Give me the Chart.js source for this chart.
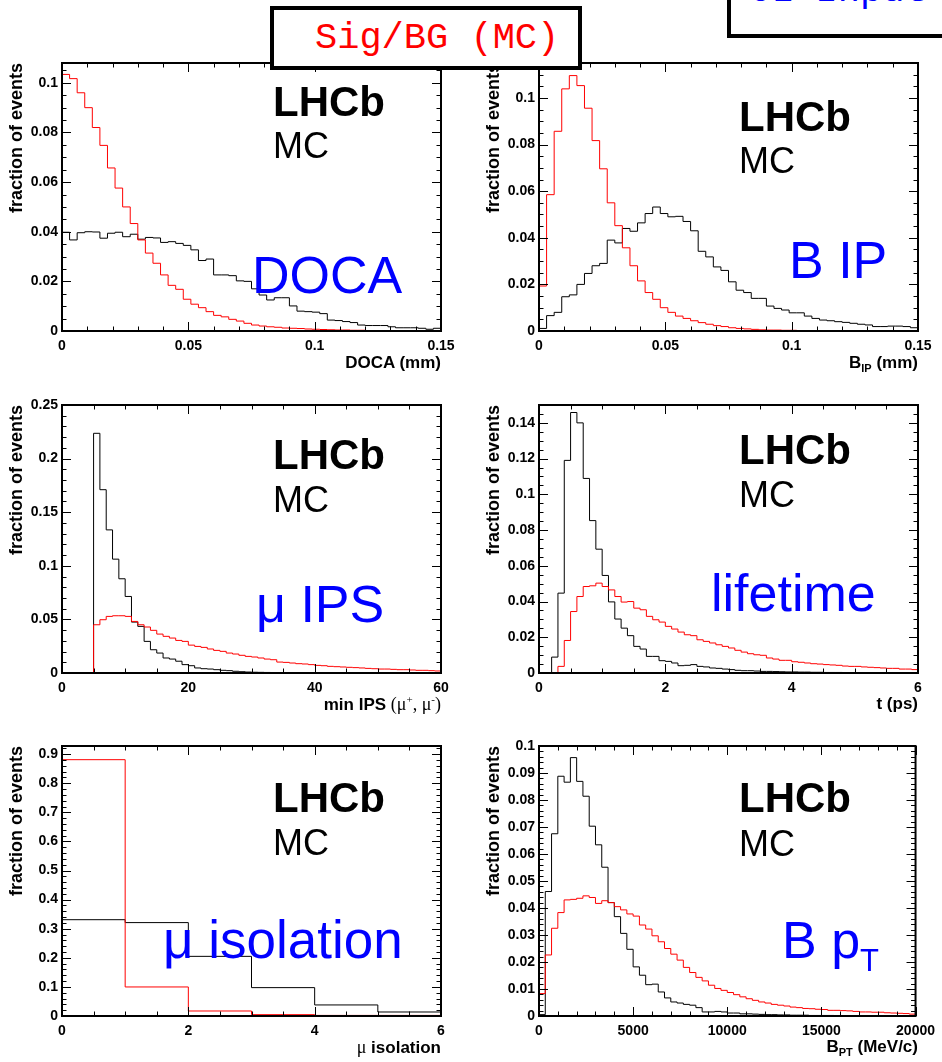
<!DOCTYPE html>
<html>
<head>
<meta charset="utf-8">
<script src="https://cdn.jsdelivr.net/npm/chart.js@4.4.0/dist/chart.umd.min.js"></script>
<style>
  body { margin: 0; background: #fff; }
  #page { position: relative; width: 942px; height: 1062px; overflow: hidden; font-family: "Liberation Sans", Arial, sans-serif; }
  canvas { position: absolute; }
  .t { position: absolute; white-space: nowrap; line-height: 1; color: #000; z-index: 2; }
  .lhcb { font-weight: bold; font-size: 42px; }
  .mc { font-size: 36px; }
  .big { font-size: 52px; color: #0000ff; }
  .xt { font-weight: bold; font-size: 17px; }
  .sym { font-family: "Liberation Serif", serif; font-weight: normal; font-size: 18px; }
  .sub { font-size: 11px; position: relative; top: 4px; }
  .sup { font-size: 11px; position: relative; top: -7px; }
  .box { position: absolute; box-sizing: border-box; border: 4px solid #000; background: #fff; z-index: 3;
         font-family: "Liberation Mono", "Courier New", monospace; font-size: 37px; line-height: 1; overflow: hidden; }
  .box span { position: absolute; white-space: nowrap; }
</style>
</head>
<body>
<div id="page">
  <div class="box" style="left:270px;top:6px;width:312px;height:64px;"><span style="left:41px;top:10px;color:#ff0000;">Sig/BG (MC)</span></div>
  <div class="box" style="left:727px;top:-22px;width:260px;height:60px;"><span style="left:18px;top:-9px;color:#0000ff;">CL Input</span></div>

  <div class="t lhcb" style="left:273px;top:81px;">LHCb</div>
  <div class="t mc" style="left:273px;top:128px;">MC</div>
  <div class="t big" style="left:252px;top:249px;">DOCA</div>
  <div class="t xt" style="right:501px;top:354px;">DOCA (mm)</div>

  <div class="t lhcb" style="left:739px;top:96px;">LHCb</div>
  <div class="t mc" style="left:739px;top:143px;">MC</div>
  <div class="t big" style="left:789px;top:234px;">B IP</div>
  <div class="t xt" style="right:24px;top:354px;">B<span class="sub">IP</span> (mm)</div>

  <div class="t lhcb" style="left:273px;top:434px;">LHCb</div>
  <div class="t mc" style="left:273px;top:482px;">MC</div>
  <div class="t big" style="left:256px;top:578px;">μ IPS</div>
  <div class="t xt" style="right:501px;top:695px;">min IPS <span class="sym">(μ<span class="sup">+</span>, μ<span class="sup">-</span>)</span></div>

  <div class="t lhcb" style="left:739px;top:429px;">LHCb</div>
  <div class="t mc" style="left:739px;top:477px;">MC</div>
  <div class="t big" style="left:711px;top:567px;">lifetime</div>
  <div class="t xt" style="right:24px;top:695px;">t (ps)</div>

  <div class="t lhcb" style="left:273px;top:777px;">LHCb</div>
  <div class="t mc" style="left:273px;top:825px;">MC</div>
  <div class="t big" style="left:163px;top:913px;font-size:53px;">μ isolation</div>
  <div class="t xt" style="right:501px;top:1038px;"><span class="sym">μ</span> isolation</div>

  <div class="t lhcb" style="left:739px;top:777px;">LHCb</div>
  <div class="t mc" style="left:739px;top:826px;">MC</div>
  <div class="t big" style="left:782px;top:914px;">B p<span style="font-size:31px;position:relative;top:13px;">T</span></div>
  <div class="t xt" style="right:24px;top:1038px;">B<span class="sub">PT</span> (MeV/c)</div>
</div>
<script>
// ---- histogram contents (fraction of events per bin), red = signal, black = background ----
const docaSig = [0.1034, 0.1017, 0.0960, 0.0900, 0.0820, 0.0748, 0.0657, 0.0576, 0.0500, 0.0433,
  0.0367, 0.0314, 0.0273, 0.0226, 0.0184, 0.0168, 0.0128, 0.0108, 0.0094, 0.0078,
  0.0063, 0.0057, 0.0047, 0.0040, 0.0031, 0.0024, 0.0020, 0.0017, 0.0015, 0.0012,
  0.0011, 0.0010, 0.0008, 0.0007, 0.0006, 0.0005, 0.0004, 0.0004, 0.0003, 0.0003,
  0.0002, 0.0002, 0.0002, 0.0001, 0.0001, 0.0001, 0.0001, 0.0001, 0.0001, 0.0001];
const docaBkg = [0.0398, 0.0367, 0.0396, 0.0400, 0.0399, 0.0374, 0.0394, 0.0398, 0.0380, 0.0390,
  0.0370, 0.0377, 0.0375, 0.0357, 0.0360, 0.0353, 0.0345, 0.0327, 0.0284, 0.0290,
  0.0226, 0.0226, 0.0223, 0.0202, 0.0200, 0.0170, 0.0145, 0.0125, 0.0134, 0.0134,
  0.0101, 0.0080, 0.0078, 0.0076, 0.0070, 0.0044, 0.0042, 0.0038, 0.0034, 0.0024,
  0.0022, 0.0022, 0.0022, 0.0017, 0.0013, 0.0013, 0.0013, 0.0011, 0.0007, 0.0011];

const ipSig = [0.0193, 0.0585, 0.0857, 0.1039, 0.1096, 0.1053, 0.0956, 0.0817, 0.0696, 0.0550,
  0.0452, 0.0357, 0.0280, 0.0215, 0.0165, 0.0136, 0.0100, 0.0080, 0.0064, 0.0054,
  0.0044, 0.0036, 0.0029, 0.0023, 0.0019, 0.0014, 0.0011, 0.0009, 0.0007, 0.0005,
  0.0004, 0.0004, 0.0003, 0.0003, 0.0002, 0.0002, 0.0002, 0.0001, 0.0001, 0.0001,
  0.0001, 0.0001, 0.0001, 0.0001, 0.0001, 0.0001, 0.0001, 0.0001, 0.0001, 0.0001];
const ipBkg = [0.0011, 0.0066, 0.0080, 0.0147, 0.0155, 0.0200, 0.0247, 0.0280, 0.0290, 0.0390,
  0.0378, 0.0440, 0.0428, 0.0464, 0.0504, 0.0532, 0.0504, 0.0490, 0.0492, 0.0470,
  0.0430, 0.0342, 0.0318, 0.0275, 0.0260, 0.0211, 0.0175, 0.0165, 0.0140, 0.0140,
  0.0107, 0.0097, 0.0090, 0.0078, 0.0078, 0.0064, 0.0054, 0.0047, 0.0044, 0.0040,
  0.0037, 0.0033, 0.0029, 0.0026, 0.0019, 0.0019, 0.0021, 0.0021, 0.0019, 0.0014];

const ipsSig = [0, 0, 0, 0, 0, 0.0450, 0.0497, 0.0528, 0.0534, 0.0534,
  0.0528, 0.0481, 0.0450, 0.0429, 0.0398, 0.0363, 0.0342, 0.0326, 0.0304, 0.0295,
  0.0260, 0.0248, 0.0239, 0.0224, 0.0211, 0.0202, 0.0186, 0.0177, 0.0165, 0.0155,
  0.0149, 0.0140, 0.0130, 0.0124, 0.0102, 0.0099, 0.0093, 0.0087, 0.0084, 0.0078,
  0.0071, 0.0068, 0.0062, 0.0059, 0.0056, 0.0053, 0.0050, 0.0047, 0.0043, 0.0040,
  0.0037, 0.0037, 0.0034, 0.0031, 0.0031, 0.0028, 0.0025, 0.0025, 0.0022, 0.0019];
const ipsBkg = [0, 0, 0, 0, 0, 0.2236, 0.1710, 0.1335, 0.1062, 0.0879,
  0.0714, 0.0475, 0.0435, 0.0295, 0.0217, 0.0186, 0.0140, 0.0130, 0.0110, 0.0078,
  0.0068, 0.0047, 0.0040, 0.0037, 0.0031, 0.0025, 0.0022, 0.0016, 0.0012, 0.0009,
  0.0007, 0.0006, 0.0005, 0.0004, 0.0004, 0.0003, 0.0003, 0.0002, 0.0002, 0.0002,
  0.0001, 0.0001, 0.0001, 0.0001, 0.0001, 0.0001, 0.0001, 0.0001, 0.0001, 0.0001,
  0, 0, 0, 0, 0, 0, 0, 0, 0, 0];

const tauSig = [0, 0, 0, 0.0037, 0.0182, 0.0344, 0.0428, 0.0484, 0.0488, 0.0503,
  0.0484, 0.0465, 0.0428, 0.0397, 0.0400, 0.0363, 0.0354, 0.0317, 0.0298, 0.0285,
  0.0261, 0.0246, 0.0229, 0.0214, 0.0209, 0.0186, 0.0177, 0.0168, 0.0158, 0.0149,
  0.0140, 0.0127, 0.0117, 0.0108, 0.0102, 0.0099, 0.0084, 0.0078, 0.0071, 0.0071,
  0.0063, 0.0060, 0.0056, 0.0052, 0.0050, 0.0047, 0.0045, 0.0043, 0.0039, 0.0037,
  0.0037, 0.0034, 0.0032, 0.0030, 0.0028, 0.0026, 0.0026, 0.0022, 0.0022, 0.0019];
const tauBkg = [0, 0, 0.0089, 0.0447, 0.1190, 0.1458, 0.1400, 0.1089, 0.0853, 0.0693,
  0.0546, 0.0398, 0.0302, 0.0251, 0.0209, 0.0149, 0.0134, 0.0093, 0.0093, 0.0069,
  0.0065, 0.0056, 0.0041, 0.0043, 0.0047, 0.0037, 0.0034, 0.0028, 0.0026, 0.0022,
  0.0019, 0.0015, 0.0013, 0.0013, 0.0011, 0.0009, 0.0009, 0.0008, 0.0007, 0.0006,
  0.0006, 0.0005, 0.0005, 0.0004, 0.0004, 0.0003, 0.0003, 0.0003, 0.0002, 0.0002,
  0.0002, 0.0002, 0.0001, 0.0001, 0.0001, 0.0001, 0.0001, 0.0001, 0.0001, 0.0001];

const isoSig = [0.881, 0.0998, 0.0172, 0.0046, 0.0020, 0.0020];
const isoBkg = [0.331, 0.321, 0.205, 0.0975, 0.038, 0.0138];

const ptSig = [0.0083, 0.0226, 0.0325, 0.0383, 0.0430, 0.0432, 0.0436, 0.0445, 0.0439, 0.0417,
  0.0427, 0.0420, 0.0405, 0.0393, 0.0378, 0.0370, 0.0337, 0.0322, 0.0297, 0.0275,
  0.0250, 0.0229, 0.0207, 0.0180, 0.0161, 0.0143, 0.0130, 0.0114, 0.0102, 0.0095,
  0.0087, 0.0079, 0.0071, 0.0064, 0.0058, 0.0052, 0.0048, 0.0043, 0.0040, 0.0037,
  0.0033, 0.0031, 0.0028, 0.0027, 0.0025, 0.0024, 0.0021, 0.0021, 0.0020, 0.0019,
  0.0017, 0.0015, 0.0015, 0.0014, 0.0014, 0.0012, 0.0011, 0.0010, 0.0009, 0.0007];
const ptBkg = [0.0005, 0.0461, 0.0675, 0.0888, 0.0866, 0.0957, 0.0869, 0.0814, 0.0703, 0.0634,
  0.0551, 0.0420, 0.0368, 0.0306, 0.0247, 0.0182, 0.0151, 0.0116, 0.0118, 0.0089,
  0.0067, 0.0052, 0.0048, 0.0043, 0.0040, 0.0031, 0.0015, 0.0015, 0.0017, 0.0015,
  0.0011, 0.0011, 0.0008, 0.0008, 0.0007, 0.0006, 0.0005, 0.0005, 0.0004, 0.0004,
  0.0003, 0.0003, 0.0003, 0.0002, 0.0002, 0.0002, 0.0002, 0.0001, 0.0001, 0.0001,
  0.0001, 0.0001, 0.0001, 0.0001, 0.0001, 0, 0, 0, 0, 0];

// axis ranges and tick steps, one entry per panel
const xMax = [0.15, 0.15, 60, 6, 6, 20000];
const yMax = [0.108, 0.115, 0.25, 0.15, 0.928, 0.1];
const xMajor = [0.05, 0.05, 20, 2, 2, 5000];
const xMinor = [0.01, 0.01, 5, 0.5, 0.5, 1000];
const yMajor = [0.02, 0.02, 0.05, 0.02, 0.1, 0.01];
const yMinor = [0.005, 0.005, 0.01, 0.005, 0.02, 0.002];

const sigData = [docaSig, ipSig, ipsSig, tauSig, isoSig, ptSig];
const bkgData = [docaBkg, ipBkg, ipsBkg, tauBkg, isoBkg, ptBkg];

//! ------------------------ layout ------------------------
const plotBoxes = [
  [62, 63, 441, 331], [539, 63, 918, 331],
  [62, 405, 441, 673], [539, 405, 918, 673],
  [62, 746, 441, 1016], [539, 746, 918, 1016],
];
const X_AXIS_H = 45;
const TOP_PAD = 23;

Chart.defaults.font.family = '"Liberation Sans", Arial, sans-serif';
Chart.defaults.color = '#000';

// bin contents -> step points at the bin edges (last edge repeats the last bin)
const histPoints = (vals, xmax) => {
  const w = xmax / vals.length;
  const pts = vals.map((v, i) => ({ x: i * w, y: v }));
  pts.push({ x: xmax, y: vals[vals.length - 1] });
  return pts;
};

const fmt = (v) => String(+Number(v).toPrecision(8));

// ROOT style frame with inward ticks on all four sides
const rootAxes = {
  id: 'rootAxes',
  afterDraw(chart, args, o) {
    const { ctx, chartArea: a } = chart;
    const xs = chart.scales.x, ys = chart.scales.y;
    ctx.save();
    ctx.strokeStyle = '#000';
    ctx.lineWidth = 1;
    ctx.beginPath();
    const nx = Math.round(xs.max / o.xMinor);
    for (let i = 0; i <= nx; i++) {
      const v = i * o.xMinor;
      const major = Math.abs(v / o.xMajor - Math.round(v / o.xMajor)) < 1e-6;
      const len = major ? 9 : 4.5;
      const px = Math.round(xs.getPixelForValue(v)) + 0.5;
      ctx.moveTo(px, a.bottom); ctx.lineTo(px, a.bottom - len);
      ctx.moveTo(px, a.top); ctx.lineTo(px, a.top + len);
    }
    const ny = Math.floor(ys.max / o.yMinor + 1e-6);
    for (let i = 0; i <= ny; i++) {
      const v = i * o.yMinor;
      const major = Math.abs(v / o.yMajor - Math.round(v / o.yMajor)) < 1e-6;
      const len = major ? 9 : 4.5;
      const py = Math.round(ys.getPixelForValue(v)) + 0.5;
      ctx.moveTo(a.left, py); ctx.lineTo(a.left + len, py);
      ctx.moveTo(a.right, py); ctx.lineTo(a.right - len, py);
    }
    ctx.stroke();
    ctx.lineWidth = 2;
    ctx.strokeRect(a.left, a.top, a.right - a.left, a.bottom - a.top);
    ctx.restore();
  },
};

const makePanel = (i) => {
  const [pl, pt, pr, pb] = plotBoxes[i];
  const col = i % 2;
  const cLeft = col === 0 ? 0 : 470;
  const cWidth = col === 0 ? 470 : 472;
  const cTop = pt - TOP_PAD;
  const cHeight = pb + X_AXIS_H - cTop;
  const yAxisW = pl - cLeft;

  const canvas = document.createElement('canvas');
  canvas.width = cWidth;
  canvas.height = cHeight;
  canvas.style.left = cLeft + 'px';
  canvas.style.top = cTop + 'px';
  canvas.style.width = cWidth + 'px';
  canvas.style.height = cHeight + 'px';
  document.getElementById('page').appendChild(canvas);

  const line = (vals, color) => ({
    data: histPoints(vals, xMax[i]),
    borderColor: color,
    borderWidth: 1,
    stepped: 'before',
    pointRadius: 0,
    fill: false,
  });

  new Chart(canvas, {
    type: 'line',
    data: { datasets: [line(sigData[i], '#ff0000'), line(bkgData[i], '#000000')] },
    options: {
      responsive: false,
      animation: false,
      devicePixelRatio: 1,
      layout: { padding: { left: 0, top: TOP_PAD, right: cLeft + cWidth - pr, bottom: 0 } },
      plugins: {
        legend: { display: false },
        tooltip: { enabled: false },
        rootAxes: { xMajor: xMajor[i], xMinor: xMinor[i], yMajor: yMajor[i], yMinor: yMinor[i] },
      },
      scales: {
        x: {
          type: 'linear', min: 0, max: xMax[i],
          grid: { display: false, drawTicks: false },
          border: { display: false },
          ticks: {
            stepSize: xMajor[i], includeBounds: false, autoSkip: false, maxRotation: 0,
            padding: 7, color: '#000', font: { size: 14, weight: 'bold' }, callback: fmt,
          },
          afterFit: (s) => { s.height = X_AXIS_H; },
        },
        y: {
          type: 'linear', min: 0, max: yMax[i],
          grid: { display: false, drawTicks: false },
          border: { display: false },
          ticks: {
            stepSize: yMajor[i], includeBounds: false, padding: 4,
            color: '#000', font: { size: 14, weight: 'bold' }, callback: fmt,
          },
          title: {
            display: true, text: 'fraction of events', align: 'end', color: '#000',
            font: { size: 18, weight: 'bold' },
            padding: { top: yAxisW - 45 - 10.8, bottom: 0 },
          },
          afterFit: (s) => { s.width = yAxisW; },
        },
      },
    },
    plugins: [rootAxes],
  });
};

for (let i = 0; i < 6; i++) makePanel(i);
</script>
</body>
</html>
